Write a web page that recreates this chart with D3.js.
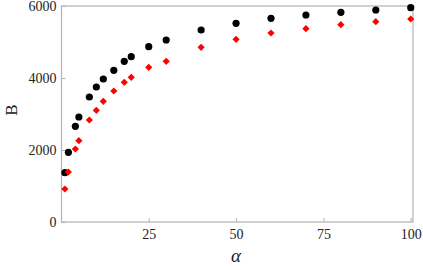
<!DOCTYPE html>
<html>
<head>
<meta charset="utf-8">
<script src="https://cdn.jsdelivr.net/npm/d3@7"></script>
<style>
  body { margin: 0; background: #fff; }
  svg { display: block; }
  svg text { font-family: "Liberation Serif", "Times New Roman", serif; }
</style>
</head>
<body>
<svg id="chart" width="423" height="270"></svg>
<script>
// alpha values (shared by both series)
const alphas = [1, 2, 4, 5, 8, 10, 12, 15, 18, 20, 25, 30, 40, 50, 60, 70, 80, 90, 100];
// black circles
const serieNoire = [1370, 1936, 2658, 2917, 3472, 3750, 3972, 4214, 4464, 4592, 4870, 5056, 5333, 5520, 5659, 5750, 5825, 5889, 5953];
// red diamonds
const serieRouge = [917, 1389, 2028, 2258, 2833, 3103, 3353, 3639, 3881, 4019, 4297, 4464, 4853, 5075, 5250, 5370, 5481, 5564, 5639];
const xTicks = [25, 50, 75, 100];
const yTicks = [0, 2000, 4000, 6000];

const svg = d3.select("#chart");
const gauche = 61.5, droite = 413, haut = 6, bas = 222;

const x = d3.scaleLinear().domain([0, 100.65]).range([gauche - 0.1, droite]);
const y = d3.scaleLinear().domain([0, 6000]).range([bas, haut]);

const gris = "#b3b3b3";
const police = "'Liberation Serif', 'Times New Roman', serif";

// frame
svg.append("rect")
    .attr("x", gauche).attr("y", haut)
    .attr("width", droite - gauche).attr("height", bas - haut)
    .style("fill", "none").style("stroke", gris).style("stroke-width", 1.2);

// axes, ticks pointing inside
const axeX = svg.append("g").attr("transform", `translate(0,${bas})`)
    .call(d3.axisBottom(x).tickValues(xTicks).tickFormat(d3.format("d"))
        .tickSizeInner(-4).tickSizeOuter(0).tickPadding(7.5));
const axeY = svg.append("g").attr("transform", `translate(${gauche},0)`)
    .call(d3.axisLeft(y).tickValues(yTicks).tickFormat(d3.format("d"))
        .tickSizeInner(-4).tickSizeOuter(0).tickPadding(5));

[axeX, axeY].forEach((a) => {
    a.attr("font-family", police).attr("font-size", 14);
    a.select(".domain").remove();
    a.selectAll("line").style("stroke", gris).style("stroke-width", 1);
    a.selectAll("text")
        .style("font-family", police)
        .style("font-size", "14px")
        .style("fill", "#222");
});

// points
const donnees = alphas.map((a, i) => ({ a: a, n: serieNoire[i], r: serieRouge[i] }));

svg.selectAll(".noir").data(donnees).enter()
    .append("circle")
    .attr("class", "noir")
    .attr("cx", (d) => x(d.a))
    .attr("cy", (d) => y(d.n))
    .attr("r", 3.6)
    .style("fill", "black");

svg.selectAll(".rouge").data(donnees).enter()
    .append("path")
    .attr("class", "rouge")
    .attr("d", "M0,-3.6L3.6,0L0,3.6L-3.6,0Z")
    .attr("transform", (d) => `translate(${x(d.a)},${y(d.r)})`)
    .style("fill", "#ff0000");

// axis labels
svg.append("text")
    .attr("transform", "translate(16.5,110) rotate(-90)")
    .attr("text-anchor", "middle")
    .style("font-family", police)
    .style("font-size", "17px")
    .style("fill", "#222")
    .text("B");

svg.append("text")
    .attr("x", x(50))
    .attr("y", 262)
    .attr("text-anchor", "middle")
    .style("font-family", police)
    .style("font-size", "19px")
    .style("font-style", "italic")
    .style("fill", "#222")
    .text("α");
</script>
</body>
</html>
